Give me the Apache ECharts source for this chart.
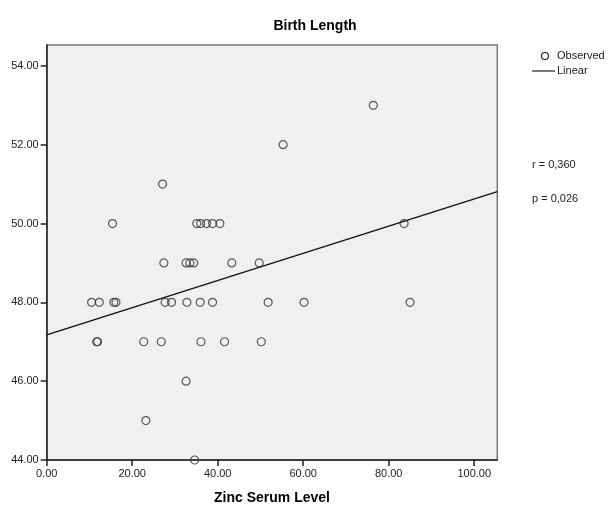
<!DOCTYPE html>
<html>
<head>
<meta charset="utf-8">
<script src="https://cdn.jsdelivr.net/npm/echarts@6/dist/echarts.min.js"></script>
<style>html,body{margin:0;padding:0;background:#fff;}#c{width:611px;height:509px;}</style>
</head>
<body>
<div id="c"></div>
<script>
// Zinc serum level (x) and birth length (y)
const zinc = [76.4, 55.3, 27.1,
  15.4, 35.1, 36.0, 37.4, 38.8, 40.5, 83.6,
  27.4, 32.6, 33.5, 34.4, 43.3, 49.7,
  10.5, 12.3, 15.7, 16.2, 27.7, 29.2, 32.8, 35.9, 38.8, 51.8, 60.2, 85.0,
  11.7, 11.9, 22.7, 26.8, 36.1, 41.6, 50.2,
  32.6, 23.2, 34.6];
const birthLength = [53, 52, 51,
  50, 50, 50, 50, 50, 50, 50,
  49, 49, 49, 49, 49, 49,
  48, 48, 48, 48, 48, 48, 48, 48, 48, 48, 48, 48,
  47, 47, 47, 47, 47, 47, 47,
  46, 45, 44];
const xTicks = [0, 20, 40, 60, 80, 100];
const yTicks = [44, 46, 48, 50, 52, 54];
const stats = ['r = 0,360', 'p = 0,026'];

const XMIN = 0, XMAX = 105.4, YMIN = 44, YMAX = 54.53;

// least squares fit
const n = zinc.length;
const mx = zinc.reduce((a, b) => a + b, 0) / n;
const my = birthLength.reduce((a, b) => a + b, 0) / n;
let sxy = 0, sxx = 0;
for (let i = 0; i < n; i++) { sxy += (zinc[i] - mx) * (birthLength[i] - my); sxx += (zinc[i] - mx) ** 2; }
const slope = sxy / sxx, icpt = my - slope * mx;
const linePts = [[XMIN, icpt + slope * XMIN], [XMAX, icpt + slope * XMAX]];

const font = 'Liberation Sans, Arial, sans-serif';
const chart = echarts.init(document.getElementById('c'), null, {renderer: 'canvas'});
chart.setOption({
  animation: false,
  backgroundColor: '#ffffff',
  title: {
    text: 'Birth Length', left: 310, top: 14, textAlign: 'center',
    textStyle: {fontFamily: font, fontSize: 14, fontWeight: 'bold', color: '#000'}
  },
  grid: {left: 46.7, right: 113.7, top: 45, bottom: 49, show: true,
    containLabel: false, outerBoundsMode: 'none',
    backgroundColor: '#f0f0f0', borderColor: '#777', borderWidth: 1.5},
  xAxis: {
    type: 'value', min: XMIN, max: XMAX, interval: 20,
    name: 'Zinc Serum Level', nameLocation: 'middle', nameGap: 31,
    nameTextStyle: {fontFamily: font, fontSize: 14, fontWeight: 'bold', color: '#000'},
    axisLine: {show: true, onZero: false, lineStyle: {color: '#222', width: 1.5}},
    axisTick: {show: true, inside: false, length: 6, lineStyle: {color: '#222', width: 1.5}},
    axisLabel: {fontFamily: font, fontSize: 11, color: '#222', margin: 8,
      formatter: v => xTicks.includes(v) ? v.toFixed(2) : '', showMaxLabel: false},
    splitLine: {show: false}
  },
  yAxis: {
    type: 'value', min: YMIN, max: YMAX, interval: 2,
    axisLine: {show: true, onZero: false, lineStyle: {color: '#222', width: 1.5}},
    axisTick: {show: true, inside: false, length: 6, lineStyle: {color: '#222', width: 1.5}},
    axisLabel: {fontFamily: font, fontSize: 11, color: '#222', margin: 8,
      formatter: v => yTicks.includes(v) ? v.toFixed(2) : '', showMaxLabel: false},
    splitLine: {show: false}
  },
  series: [
    {type: 'scatter', name: 'Observed', data: zinc.map((x, i) => [x, birthLength[i]]),
      symbol: 'circle', symbolSize: 8,
      itemStyle: {color: 'rgba(0,0,0,0)', borderColor: '#333', borderWidth: 1.2}, z: 3},
    {type: 'line', name: 'Linear', data: linePts, showSymbol: false, symbol: 'none',
      lineStyle: {color: '#111', width: 1.3}, z: 2}
  ],
  graphic: [
    {type: 'circle', shape: {cx: 545, cy: 56, r: 3.5}, style: {fill: 'none', stroke: '#222', lineWidth: 1.1}},
    {type: 'text', left: 557, top: 50, style: {text: 'Observed', font: '11px ' + font, fill: '#222'}},
    {type: 'line', shape: {x1: 532, y1: 71, x2: 555, y2: 71}, style: {stroke: '#222', lineWidth: 1.2}},
    {type: 'text', left: 557, top: 65, style: {text: 'Linear', font: '11px ' + font, fill: '#222'}},
    {type: 'text', left: 532, top: 159, style: {text: stats[0], font: '11px ' + font, fill: '#222'}},
    {type: 'text', left: 532, top: 193, style: {text: stats[1], font: '11px ' + font, fill: '#222'}}
  ]
});
</script>
</body>
</html>
